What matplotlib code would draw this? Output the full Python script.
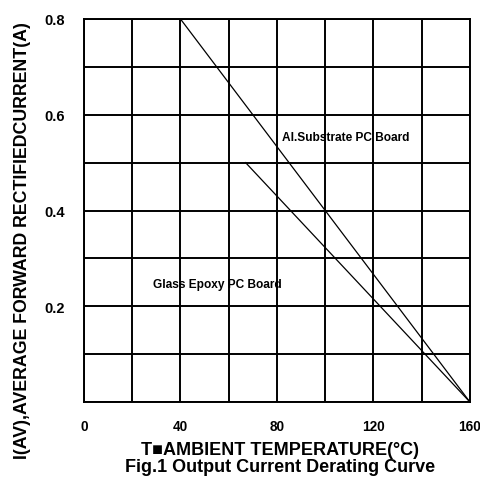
import matplotlib.pyplot as plt

plt.rcParams['font.family'] = ['Liberation Sans', 'DejaVu Sans']

# curve data (temperature in C, current in A)
al_temp = [40, 160]
al_current = [0.8, 0.0]
glass_temp = [67, 160]
glass_current = [0.5, 0.0]

x_ticks = [0, 40, 80, 120, 160]
y_ticks = [0.2, 0.4, 0.6, 0.8]
x_grid = list(range(0, 161, 20))
y_grid = [i / 10 for i in range(9)]

fig = plt.figure(figsize=(4.81, 4.85), dpi=100)
ax = fig.add_axes([0.1746, 0.169, 0.8024, 0.7898])

for gx in x_grid:
    ax.axvline(gx, color='black', lw=1.4)
for gy in y_grid:
    ax.axhline(gy, color='black', lw=1.4)

ax.plot(al_temp, al_current, color='black', lw=0.9)
ax.plot(glass_temp, glass_current, color='black', lw=0.9)

ax.text(82.1, 0.554, "Al.Substrate PC Board", fontsize=8.6, fontweight='bold',
        va='center', ha='left')
ax.text(28.6, 0.246, "Glass Epoxy PC Board", fontsize=8.6, fontweight='bold',
        va='center', ha='left')

ax.set_xlim(0, 160)
ax.set_ylim(0, 0.8)
ax.set_xticks(x_ticks)
ax.set_yticks(y_ticks)
ax.set_xticklabels([str(v) for v in x_ticks], fontsize=9.8, fontweight='bold')
ax.set_yticklabels([f"{v:.1f}" for v in y_ticks], fontsize=10.5, fontweight='bold')
ax.tick_params(length=0)
ax.tick_params(axis='y', pad=13.5)
ax.tick_params(axis='x', pad=12)
ax.get_xticklabels()[-1].set_x(159)
for s in ax.spines.values():
    s.set_linewidth(1.4)

fig.text(0.046, 0.503, "I(AV),AVERAGE FORWARD RECTIFIEDCURRENT(A)", rotation=90,
         fontsize=12.8, fontweight='bold', ha='center', va='center')
fig.text(0.582, 0.071, "T\u25a0AMBIENT TEMPERATURE(\u00b0C)", fontsize=13,
         fontweight='bold', ha='center', va='center')
fig.text(0.582, 0.036, "Fig.1 Output Current Derating Curve", fontsize=13,
         fontweight='bold', ha='center', va='center')

fig.savefig('out.png', dpi=100)
